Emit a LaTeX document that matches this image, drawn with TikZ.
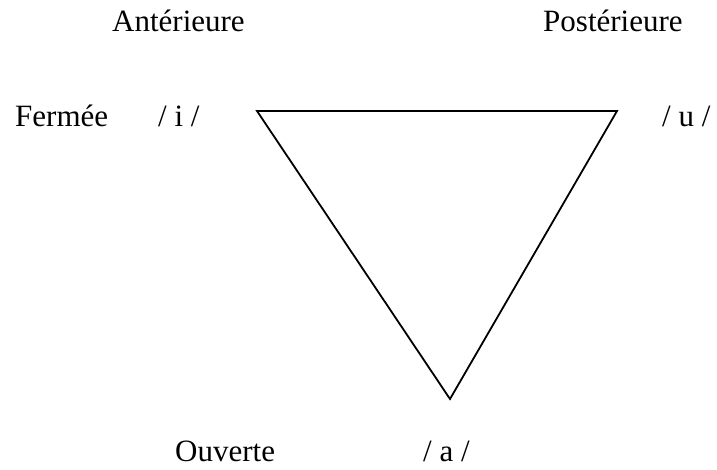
\documentclass[tikz,border=0pt]{standalone}
\usepackage{fontspec}
\setmainfont{Liberation Serif}
\begin{document}
\begin{tikzpicture}[x=1pt,y=-1pt,
  lbl/.style={anchor=base west,inner sep=0pt,font=\fontsize{31}{36}\selectfont},
  edge/.style={line width=1.8pt,line join=miter}]
\useasboundingbox (0,0) rectangle (717,470);
\node[lbl] (ant) at (112,32) {Antérieure};
\node[lbl] (post) at (543,32) {Postérieure};
\node[lbl] (ferm) at (15,127) {Fermée};
\node[lbl] (i) at (158,127) {/ i /};
\node[lbl] (u) at (662,127) {/ u /};
\node[lbl] (ouv) at (175,461) {Ouverte};
\node[lbl] (a) at (423,461) {/ a /};
\coordinate (tl) at (257,111);
\coordinate (tr) at (617,111);
\coordinate (bt) at (450,399);
\draw[edge] (tl) -- (tr) -- (bt) -- cycle;
\end{tikzpicture}
\end{document}
